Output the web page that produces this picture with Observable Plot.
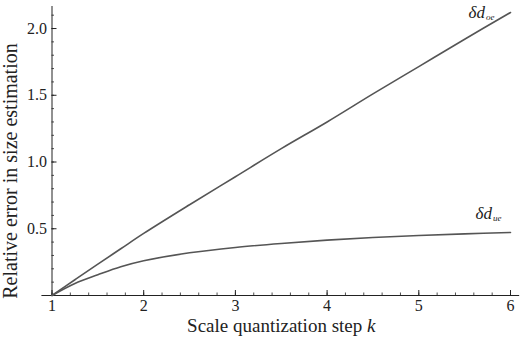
<!DOCTYPE html>
<html><head><meta charset="utf-8">
<script src="https://cdn.jsdelivr.net/npm/d3@7"></script>
<script src="https://cdn.jsdelivr.net/npm/@observablehq/plot@0.6"></script>
<style>body{margin:0;background:#fff} svg{display:block}</style>
</head><body><div id="chart"></div>
<script>
const kValues = [1, 1.25, 1.5, 1.75, 2, 2.5, 3, 3.5, 4, 4.5, 5, 5.5, 6];
const dOe = [0, 0.118, 0.235, 0.35, 0.465, 0.68, 0.89, 1.1, 1.3, 1.51, 1.715, 1.92, 2.12];
const dUe = [0, 0.09, 0.155, 0.215, 0.26, 0.32, 0.36, 0.39, 0.415, 0.435, 0.45, 0.462, 0.472];
const xTicks = [1, 2, 3, 4, 5, 6];
const yTicks = [0.5, 1.0, 1.5, 2.0];
const xMinor = d3.range(1, 6.01, 0.2).map(v => +v.toFixed(1));
const yMinor = d3.range(0.1, 2.15, 0.1).map(v => +v.toFixed(1));
const seriesNames = ["oe", "ue"];
const xTitle = "Scale quantization step k";
const yTitle = "Relative error in size estimation";

const oe = kValues.map((k, i) => ({k, v: dOe[i]}));
const ue = kValues.map((k, i) => ({k, v: dUe[i]}));
const labOe = [{k: 6, v: dOe[dOe.length - 1], name: seriesNames[0]}];
const labUe = [{k: 6, v: dUe[dUe.length - 1], name: seriesNames[1]}];

const font = "Liberation Serif";
const W = 520, H = 342;
const mL = 51.5, mR = 10, mT = 6, mB = 47;
const yMax = 2.165;
const pxX = (W - mL - mR) / 5;
const pxY = (H - mT - mB) / yMax;
const major = 5, minorL = 2.5;
const ink = "#222";
const lineColor = "#555";
const txt = {fontFamily: font, fill: ink};

const chart = Plot.plot({
  width: W, height: H,
  marginLeft: mL, marginRight: mR, marginTop: mT, marginBottom: mB,
  x: {domain: [1, 6], axis: null},
  y: {domain: [0, yMax], axis: null},
  style: {fontFamily: font, background: "#fff"},
  marks: [
    Plot.ruleY([0], {x1: 0.89, x2: 6.1, stroke: ink, strokeWidth: 1}),
    Plot.ruleX([1], {y1: 0, y2: yMax, stroke: ink, strokeWidth: 1}),
    Plot.ruleX(xTicks, {y1: 0, y2: major / pxY, stroke: ink, strokeWidth: 1}),
    Plot.ruleX(xMinor, {y1: 0, y2: minorL / pxY, stroke: ink, strokeWidth: 0.8}),
    Plot.ruleY(yTicks, {x1: 1, x2: 1 + major / pxX, stroke: ink, strokeWidth: 1}),
    Plot.ruleY(yMinor, {x1: 1, x2: 1 + minorL / pxX, stroke: ink, strokeWidth: 0.8}),
    Plot.text(xTicks, {x: d => d, y: 0, text: d => String(d), dy: 4, fontSize: 16, lineAnchor: "top", ...txt}),
    Plot.text(yTicks, {x: 1, y: d => d, text: d => d.toFixed(1), dx: -5, textAnchor: "end", fontSize: 16, ...txt}),
    Plot.line(oe, {x: "k", y: "v", stroke: lineColor, strokeWidth: 1.6, curve: "catmull-rom"}),
    Plot.line(ue, {x: "k", y: "v", stroke: lineColor, strokeWidth: 1.6, curve: "catmull-rom"}),
    Plot.text(labOe, {x: "k", y: "v", text: d => "δd", dx: -42, dy: 0, textAnchor: "start", fontStyle: "italic", fontSize: 17, ...txt}),
    Plot.text(labUe, {x: "k", y: "v", text: d => "δd", dx: -35, dy: -19, textAnchor: "start", fontStyle: "italic", fontSize: 17, ...txt}),
    Plot.text([xTitle], {frameAnchor: "bottom", text: d => d, dy: 36, fontSize: 19, ...txt}),
    Plot.text([yTitle], {frameAnchor: "left", text: d => d, dx: -41, dy: 20, rotate: -90, textAnchor: "middle", fontSize: 20, ...txt})
  ]
});
document.getElementById("chart").append(chart);

// rich text: subscripts and italic k
const svg = d3.select(chart);
const curveLabels = svg.selectAll("text").filter(function() { return this.textContent === "δd"; });
curveLabels.each(function(d, i) {
  d3.select(this).append("tspan").attr("font-size", 9).attr("dy", 2).attr("dx", 1).text(seriesNames[i]);
});
svg.selectAll("text").filter(function() { return this.textContent === xTitle; }).each(function() {
  const t = d3.select(this);
  t.text(xTitle.slice(0, -1));
  t.append("tspan").attr("font-style", "italic").text(xTitle.slice(-1));
});
</script></body></html>
